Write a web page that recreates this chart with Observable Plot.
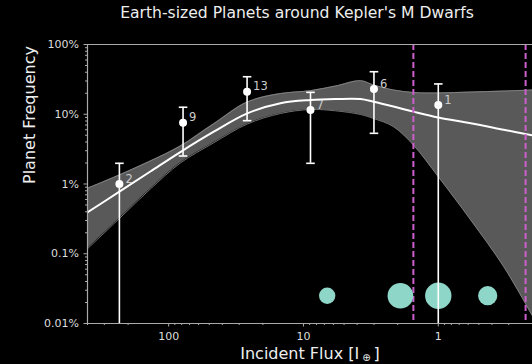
<!DOCTYPE html>
<html>
<head>
<meta charset="utf-8">
<script src="https://cdn.jsdelivr.net/npm/d3@7"></script>
<script src="https://cdn.jsdelivr.net/npm/@observablehq/plot@0.6"></script>
<style>
  html, body { margin: 0; padding: 0; background: #000; }
  #title { width: 532px; height: 27px; line-height: 27px; box-sizing: border-box; padding-left: 62px;
           text-align: center; color: #eee; font-family: "DejaVu Sans", sans-serif; font-size: 15.6px; white-space: nowrap; }
  #chart svg { display: block; }
</style>
</head>
<body>
<div id="title">Earth-sized Planets around Kepler's M Dwarfs</div>
<div id="chart"></div>
<script>
// Occurrence-rate model (incident flux in Earth units, frequency in %)
const fluxModel = [401.5, 232, 136.7, 81.9, 46.6, 26.1, 14.8, 8.87, 5.78, 3.77, 3.02, 2.15, 1.53, 1.0, 0.575, 0.327, 0.2];
const freqModel = [0.39, 0.776, 1.51, 2.87, 5.57, 10.3, 14.4, 16.0, 16.5, 16.5, 15.1, 12.9, 10.9, 8.98, 7.44, 6.0, 4.97];
const freqUpper = [0.868, 1.35, 2.14, 3.51, 7.25, 15.0, 19.8, 21.8, 25.4, 30.3, 26.3, 22.3, 20.5, 20.2, 20.8, 21.5, 22.3];
const freqLower = [0.117, 0.32, 0.848, 2.0, 3.87, 7.25, 10.25, 11.7, 11.2, 9.92, 8.69, 6.63, 3.62, 1.27, 0.305, 0.0652, 0.0128];

// Binned occurrence rates
const binFlux = [232, 78.2, 26.2, 8.87, 3.0, 1.0];
const binFreq = [1.0, 7.57, 21.1, 11.5, 23.0, 13.6];
const binHigh = [1.98, 12.6, 34.5, 20.6, 40.7, 27.2];
const binLow = [0.005, 2.52, 8.09, 1.98, 5.33, 0.005];
const binCount = ["2", "9", "13", "7", "6", "1"];

// Solar-system planets (flux, radius in Earth radii)
const planetNames = ["Mercury", "Venus", "Earth", "Mars"];
const planetFlux = [6.67, 1.91, 1.0, 0.43];
const planetRadius = [0.383, 0.949, 1.0, 0.532];
const planetRowFreq = [0.025, 0.025, 0.025, 0.025];

// Habitable-zone edges
const hzFlux = [1.53, 0.225];

// Axes
const xDomain = [400, 0.2];
const yDomain = [0.01, 100];
const xMajor = [100, 10, 1];
const yMajor = [0.01, 0.1, 1, 10, 100];
const xLabel = "Incident Flux [I ⊕ ]";
const yLabel = "Planet Frequency";

// ---- build tables ----
const model = fluxModel.map((f, i) => ({flux: f, mid: freqModel[i], hi: freqUpper[i], lo: freqLower[i]}));
const bins = binFlux.map((f, i) => ({flux: f, freq: binFreq[i], hi: binHigh[i], lo: binLow[i], n: binCount[i]}));
const planets = planetNames.map((n, i) => ({name: n, flux: planetFlux[i], r: planetRadius[i], freq: planetRowFreq[i]}));

function minorTicks(lo, hi) {
  const out = [];
  const a = Math.min(lo, hi), b = Math.max(lo, hi);
  for (let e = Math.floor(Math.log10(a)); e <= Math.ceil(Math.log10(b)); e++) {
    for (let k = 2; k <= 9; k++) {
      const v = k * Math.pow(10, e);
      if (v >= a && v <= b) out.push(v);
    }
  }
  return out;
}
const xMinor = minorTicks(xDomain[0], xDomain[1]);
const yMinor = minorTicks(yDomain[0], yDomain[1]);

const capSymbol = {
  draw(ctx, size) {
    const r = Math.sqrt(size / Math.PI);
    ctx.moveTo(-r, 0);
    ctx.lineTo(r, 0);
  }
};

const axisColor = "#aaaaaa";
const chart = Plot.plot({
  width: 532,
  height: 337,
  marginTop: 17,
  marginBottom: 41,
  marginLeft: 87,
  marginRight: 0,
  style: {background: "#000", color: "#dddddd", fontFamily: "DejaVu Sans, sans-serif", fontSize: "11px"},
  x: {type: "log", domain: xDomain, label: null},
  y: {type: "log", domain: yDomain, label: null},
  r: {domain: [0, 1], range: [0, 13.2]},
  marks: [
    Plot.areaY(model, {x: "flux", y1: "lo", y2: "hi", fill: "#595959", curve: "catmull-rom", clip: true}),
    Plot.lineY(model, {x: "flux", y: "hi", stroke: "#8c8c8c", strokeWidth: 0.8, curve: "catmull-rom", clip: true}),
    Plot.lineY(model, {x: "flux", y: "lo", stroke: "#8c8c8c", strokeWidth: 0.8, curve: "catmull-rom", clip: true}),
    Plot.lineY(model, {x: "flux", y: "mid", stroke: "#ffffff", strokeWidth: 2, curve: "catmull-rom", clip: true}),
    Plot.ruleX(hzFlux, {stroke: "#cc5fcc", strokeWidth: 2, strokeDasharray: "6,3"}),
    Plot.dot(planets, {x: "flux", y: "freq", r: "r", fill: "#8ed6c8", stroke: "none"}),
    Plot.ruleX(bins, {x: "flux", y1: "lo", y2: "hi", stroke: "#ffffff", strokeWidth: 1.6, clip: true}),
    Plot.dot(bins, {x: "flux", y: "hi", symbol: capSymbol, r: 4.3, stroke: "#ffffff", strokeWidth: 1.6, fill: "none", clip: true}),
    Plot.dot(bins, {x: "flux", y: "lo", symbol: capSymbol, r: 4.3, stroke: "#ffffff", strokeWidth: 1.6, fill: "none", clip: true}),
    Plot.dot(bins, {x: "flux", y: "freq", r: 4, fill: "#ffffff", stroke: "none"}),
    Plot.text(bins, {x: "flux", y: "freq", text: "n", textAnchor: "start", dx: 6, dy: -5, fill: "#cccccc", fontSize: 11.5}),
    // frame lines
    Plot.ruleY([yDomain[1]], {stroke: axisColor, strokeWidth: 1.2}),
    Plot.ruleY([yDomain[0]], {stroke: axisColor, strokeWidth: 1.2}),
    Plot.ruleX([xDomain[0]], {stroke: axisColor, strokeWidth: 1.2}),
    // axes
    Plot.axisY(yMajor, {tickSize: 3.5, tickPadding: 5, tickFormat: d => d + "%", stroke: axisColor, fill: "#dddddd", label: null, fontSize: 11}),
    Plot.axisY(yMinor, {tickSize: 2, tickFormat: () => "", stroke: axisColor, label: null}),
    Plot.axisX(xMajor, {tickSize: 3.5, tickPadding: 5, tickFormat: d => String(d), stroke: axisColor, fill: "#dddddd", label: null, fontSize: 11}),
    Plot.axisX(xMinor, {tickSize: 2, tickFormat: () => "", stroke: axisColor, label: null}),
    // axis titles
    Plot.text([xLabel], {text: d => d, frameAnchor: "bottom", dy: 30, lineAnchor: "middle", fontSize: 16, fill: "#eeeeee"}),
    Plot.text([yLabel], {text: d => d, frameAnchor: "left", rotate: -90, dx: -57.6, lineAnchor: "middle", fontSize: 16, fill: "#eeeeee"})
  ]
});
document.getElementById("chart").appendChild(chart);

// subscript the Earth symbol in the x label
d3.select(chart).selectAll("text").filter(function() { return this.textContent === xLabel; })
  .each(function() {
    const t = d3.select(this);
    t.text(null);
    t.append("tspan").text("Incident Flux [I");
    t.append("tspan").attr("dx", 3).attr("dy", 2.5).attr("font-size", "10px").text("⊕");
    t.append("tspan").attr("dx", 3).attr("dy", -2.5).text("]");
  });
</script>
</body>
</html>
